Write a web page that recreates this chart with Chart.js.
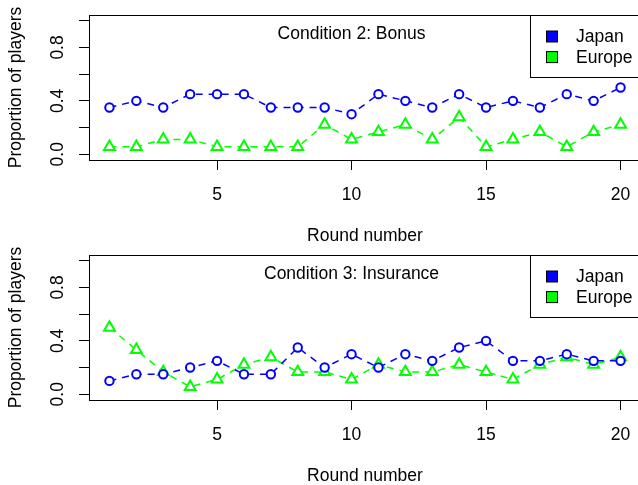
<!DOCTYPE html>
<html>
<head>
<meta charset="utf-8">
<script src="https://cdn.jsdelivr.net/npm/chart.js@4"></script>
<style>
  html, body { margin: 0; padding: 0; background: #fff; overflow: hidden; width: 638px; height: 485px; }
  .panel { position: absolute; left: 0; width: 642px; height: 246px; }
</style>
</head>
<body>
<div class="panel" style="top:0"><canvas id="bonusChart" width="642" height="246"></canvas></div>
<div class="panel" style="top:240px"><canvas id="insuranceChart" width="642" height="246"></canvas></div>
<script>
const rounds = [1, 2, 3, 4, 5, 6, 7, 8, 9, 10, 11, 12, 13, 14, 15, 16, 17, 18, 19, 20];

const bonusJapan = [0.35, 0.40, 0.35, 0.45, 0.45, 0.45, 0.35, 0.35, 0.35, 0.30,
                    0.45, 0.40, 0.35, 0.45, 0.35, 0.40, 0.35, 0.45, 0.40, 0.50];
const bonusEurope = [0.056, 0.056, 0.111, 0.111, 0.056, 0.056, 0.056, 0.056, 0.222, 0.111,
                     0.167, 0.222, 0.111, 0.278, 0.056, 0.111, 0.167, 0.056, 0.167, 0.222];

const insuranceJapan = [0.10, 0.15, 0.15, 0.20, 0.25, 0.15, 0.15, 0.35, 0.20, 0.30,
                        0.20, 0.30, 0.25, 0.35, 0.40, 0.25, 0.25, 0.30, 0.25, 0.25];
const insuranceEurope = [0.500, 0.333, 0.167, 0.056, 0.111, 0.222, 0.278, 0.167, 0.167, 0.111,
                         0.222, 0.167, 0.167, 0.222, 0.167, 0.111, 0.222, 0.278, 0.222, 0.278];

const xTicks = [5, 10, 15, 20];
const yTicks = [0, 0.2, 0.4, 0.6, 0.8, 1.0];
const yTickLabels = ['0.0', '', '0.4', '', '0.8', ''];

const FONT_FAMILY = '"Liberation Sans", Arial, sans-serif';
const FONT_SIZE = 17.5;
Chart.defaults.font.family = FONT_FAMILY;
Chart.defaults.font.size = FONT_SIZE;
Chart.defaults.color = '#000';

// box, in-plot heading and legend, drawn the way R does it
const panelDecor = {
    id: 'panelDecor',
    afterDraw(chart, args, opts) {
        const { ctx, chartArea: a, scales } = chart;
        ctx.save();
        ctx.strokeStyle = '#000';
        ctx.lineWidth = 1;
        ctx.strokeRect(a.left + 0.5, a.top + 0.5, a.right - a.left - 1, a.bottom - a.top);

        ctx.font = FONT_SIZE + 'px ' + FONT_FAMILY;
        ctx.fillStyle = '#000';
        ctx.textAlign = 'center';
        ctx.textBaseline = 'middle';
        ctx.fillText(opts.heading, scales.x.getPixelForValue(10), scales.y.getPixelForValue(0.9));

        // legend
        const w = 111, h = 62;
        const lx = a.right - w, ly = a.top;
        ctx.fillStyle = '#fff';
        ctx.fillRect(lx + 0.5, ly + 0.5, w - 1, h);
        ctx.strokeRect(lx + 0.5, ly + 0.5, w - 1, h);
        ctx.textAlign = 'left';
        chart.data.datasets.forEach((ds, i) => {
            const cy = ly + 21.5 + i * 20.6;
            ctx.fillStyle = ds.borderColor;
            ctx.fillRect(lx + 16.5, cy - 5.5, 11, 11);
            ctx.strokeStyle = '#000';
            ctx.strokeRect(lx + 16.5, cy - 5.5, 11, 11);
            ctx.fillStyle = '#000';
            ctx.fillText(ds.label, lx + 46, cy + 1);
        });
        ctx.restore();
    }
};

function makePanel(id, heading, japan, europe) {
    const ctx = document.getElementById(id).getContext('2d');
    return new Chart(ctx, {
        type: 'line',
        data: {
            datasets: [{
                label: 'Japan',
                data: rounds.map((r, i) => ({ x: r, y: japan[i] })),
                borderColor: '#0000ff',
                backgroundColor: '#ffffff',
                borderWidth: 1.5,
                borderDash: [7, 6],
                pointStyle: 'circle',
                pointRadius: 4.2,
                pointBorderWidth: 2,
                pointBackgroundColor: '#ffffff',
                tension: 0,
            }, {
                label: 'Europe',
                data: rounds.map((r, i) => ({ x: r, y: europe[i] })),
                borderColor: '#00ff00',
                backgroundColor: '#ffffff',
                borderWidth: 1.5,
                borderDash: [7, 6],
                pointStyle: 'triangle',
                pointRadius: 6.3,
                pointBorderWidth: 2,
                pointBackgroundColor: '#ffffff',
                tension: 0,
            }]
        },
        options: {
            responsive: false,
            animation: false,
            layout: {
                autoPadding: false,
                padding: { top: 15, right: 1, left: 0, bottom: 0 }
            },
            scales: {
                x: {
                    type: 'linear',
                    min: 0.24,
                    max: 20.76,
                    afterBuildTicks: (scale) => {
                        scale.ticks = xTicks.map(v => ({ value: v }));
                    },
                    afterFit: (scale) => {
                        scale.height = 86;
                        scale.paddingLeft = 0;
                        scale.paddingRight = 0;
                    },
                    ticks: {
                        autoSkip: false,
                        maxRotation: 0,
                        padding: 15,
                        callback: (v) => String(v),
                    },
                    grid: {
                        drawOnChartArea: false,
                        drawTicks: true,
                        tickLength: 10,
                        tickColor: '#000',
                    },
                    border: { display: true, color: '#000' },
                    title: {
                        display: true,
                        text: 'Round number',
                        padding: { top: 0, bottom: -1 },
                    },
                },
                y: {
                    min: -0.0432,
                    max: 1.0432,
                    afterBuildTicks: (scale) => {
                        scale.ticks = yTicks.map(v => ({ value: v }));
                    },
                    afterFit: (scale) => {
                        scale.width = 89;
                        scale.paddingTop = 0;
                        scale.paddingBottom = 0;
                    },
                    ticks: {
                        autoSkip: false,
                        minRotation: 90,
                        maxRotation: 90,
                        crossAlign: 'center',
                        padding: 9,
                        callback: (v, i) => yTickLabels[i],
                    },
                    grid: {
                        drawOnChartArea: false,
                        drawTicks: true,
                        tickLength: 10,
                        tickColor: '#000',
                    },
                    border: { display: true, color: '#000' },
                    title: {
                        display: true,
                        text: 'Proportion of players',
                        padding: { top: 6, bottom: 0 },
                    },
                },
            },
            plugins: {
                legend: { display: false },
                tooltip: { enabled: false },
                panelDecor: { heading: heading },
            },
        },
        plugins: [panelDecor],
    });
}

makePanel('bonusChart', 'Condition 2: Bonus', bonusJapan, bonusEurope);
makePanel('insuranceChart', 'Condition 3: Insurance', insuranceJapan, insuranceEurope);
</script>
</body>
</html>
